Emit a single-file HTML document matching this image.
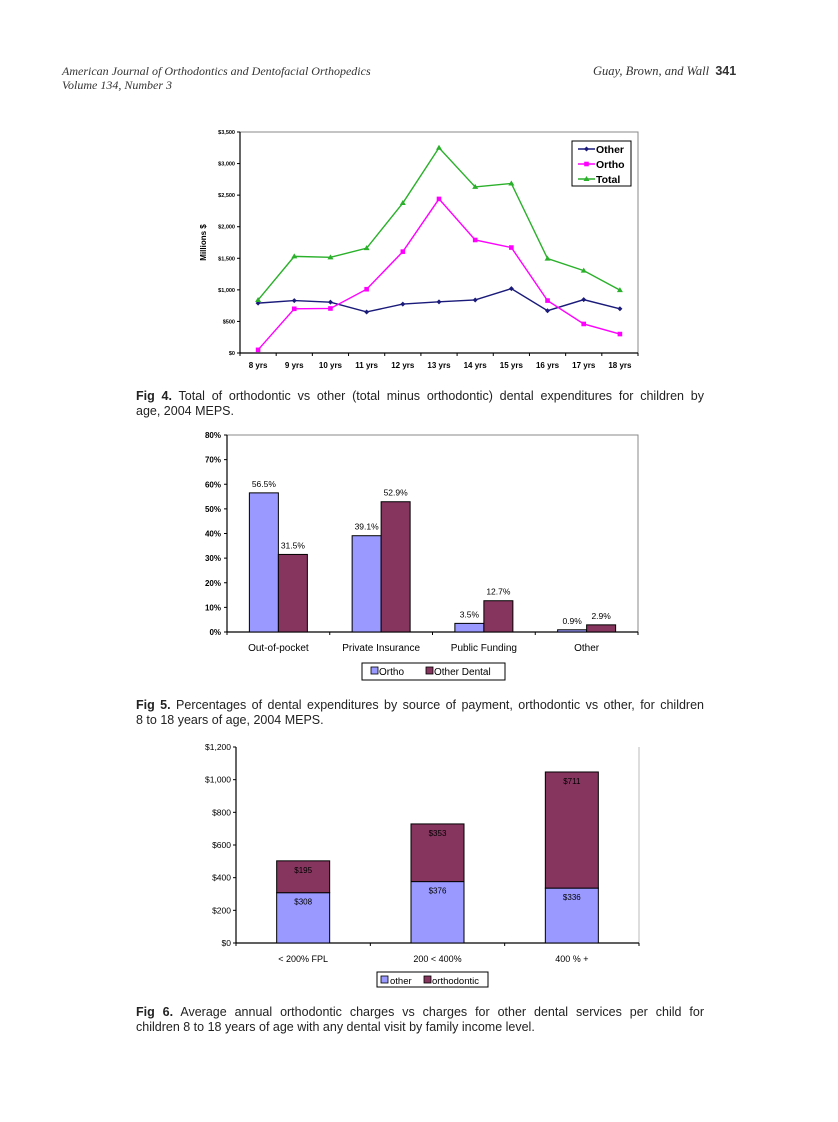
<!DOCTYPE html>
<html><head><meta charset="utf-8">
<style>
body{margin:0;background:#fff;}
#page{position:relative;width:838px;height:1122px;overflow:hidden;background:#fff;font-family:"Liberation Sans",Arial,sans-serif;}
.hdr{position:absolute;font-family:"Liberation Serif",serif;font-style:italic;font-size:12px;color:#333;line-height:14px;}
.cap{position:absolute;left:136px;width:568px;font-size:12.5px;line-height:15px;color:#222;}
.cap .l1{text-align:justify;text-align-last:justify;white-space:nowrap;}
.cap b{font-weight:bold;}
svg{position:absolute;left:0;top:0;}
</style></head><body>
<div id="page">
<div class="hdr" style="left:62px;top:64px">American Journal of Orthodontics and Dentofacial Orthopedics<br>Volume 134, Number 3</div>
<div class="hdr" style="left:593px;top:64px;font-size:12.5px">Guay, Brown, and Wall&nbsp;&nbsp;<b style="font-family:'Liberation Sans',sans-serif;font-style:normal;">341</b></div>
<div class="cap" style="top:389px"><div class="l1"><b>Fig 4.</b> Total of orthodontic vs other (total minus orthodontic) dental expenditures for children by</div><div>age, 2004 MEPS.</div></div>
<div class="cap" style="top:698px"><div class="l1"><b>Fig 5.</b> Percentages of dental expenditures by source of payment, orthodontic vs other, for children</div><div>8 to 18 years of age, 2004 MEPS.</div></div>
<div class="cap" style="top:1005px"><div class="l1"><b>Fig 6.</b> Average annual orthodontic charges vs charges for other dental services per child for</div><div>children 8 to 18 years of age with any dental visit by family income level.</div></div>
<svg id="svg" width="838" height="1122"></svg>
</div>
<script>
// Fig 4 data
const ages = ["8 yrs","9 yrs","10 yrs","11 yrs","12 yrs","13 yrs","14 yrs","15 yrs","16 yrs","17 yrs","18 yrs"];
const otherVals = [790,830,805,650,775,810,840,1020,670,845,700];
const orthoVals = [50,700,705,1010,1605,2440,1790,1670,830,460,300];
const totalVals = [840,1530,1515,1660,2375,3250,2630,2685,1495,1305,995];
const f4Ticks = ["$0","$500","$1,000","$1,500","$2,000","$2,500","$3,000","$3,500"];
// Fig 5 data
const sources = ["Out-of-pocket","Private Insurance","Public Funding","Other"];
const orthoPct = [56.5,39.1,3.5,0.9];
const otherDentalPct = [31.5,52.9,12.7,2.9];
const f5Ticks = ["0%","10%","20%","30%","40%","50%","60%","70%","80%"];
// Fig 6 data
const incomes = ["< 200% FPL","200 < 400%","400 % +"];
const otherCharge = [308,376,336];
const orthoCharge = [195,353,711];
const f6Ticks = ["$0","$200","$400","$600","$800","$1,000","$1,200"];

const NS="http://www.w3.org/2000/svg";
const svg=document.getElementById('svg');
function mk(tag,attrs,parent,text){const e=document.createElementNS(NS,tag);for(const k in attrs)e.setAttribute(k,attrs[k]);if(text!==undefined)e.textContent=text;(parent||svg).appendChild(e);return e;}

// ---------- Fig 4 ----------
(function(){
 const g=mk('g',{});
 
 
 const L=240,R=638,T=132,B=353,max=3500;
 const bw=(R-L)/ages.length;
 const x=i=>L+bw*(i+0.5), y=v=>B-(v/max)*(B-T);
 mk('rect',{x:L,y:T,width:R-L,height:B-T,fill:'#fff',stroke:'#888','stroke-width':1},g);
 mk('line',{x1:L,y1:T,x2:L,y2:B,stroke:'#000','stroke-width':1.2},g);
 mk('line',{x1:L,y1:B,x2:R,y2:B,stroke:'#000','stroke-width':1.2},g);
 f4Ticks.forEach((t,i)=>{const yy=y(i*500);
  mk('line',{x1:L-3,y1:yy,x2:L,y2:yy,stroke:'#000'},g);
  const tx=mk('text',{x:L-5,y:yy+2,'font-size':5.5,'font-weight':'bold','text-anchor':'end'},g,t);
  
  
 });
 for(let i=0;i<=ages.length;i++){mk('line',{x1:L+bw*i,y1:B,x2:L+bw*i,y2:B+3,stroke:'#000'},g);}
 ages.forEach((a,i)=>{const tx=mk('text',{x:x(i),y:B+15,'font-size':8,'font-weight':'bold','text-anchor':'middle'},g,a);
  
  });
 const yt=mk('text',{x:0,y:0,'font-size':8,'font-weight':'bold','text-anchor':'middle',transform:`translate(206,${(T+B)/2}) rotate(-90)`},g,'Millions $');
 
 
 const series=[[otherVals,'#1a1a7a','diamond','series-other'],[orthoVals,'#ff00ff','square','series-ortho'],[totalVals,'#2ab02a','tri','series-total']];
 series.forEach(([vals,col,m,name])=>{
  const pl=mk('polyline',{points:vals.map((v,i)=>x(i)+','+y(v)).join(' '),fill:'none',stroke:col,'stroke-width':1.4},g);
  
  
  vals.forEach((v,i)=>{const cx=x(i),cy=y(v);let p;
   if(m==='diamond')p=mk('polygon',{points:`${cx},${cy-2.5} ${cx+2.5},${cy} ${cx},${cy+2.5} ${cx-2.5},${cy}`,fill:col},g);
   else if(m==='square')p=mk('rect',{x:cx-2.3,y:cy-2.3,width:4.6,height:4.6,fill:col},g);
   else p=mk('polygon',{points:`${cx},${cy-3} ${cx+3},${cy+2} ${cx-3},${cy+2}`,fill:col},g);
   
   });
 });
 const lg=mk('g',{},g);
 
 
 mk('rect',{x:572,y:141,width:59,height:45,fill:'#fff',stroke:'#000','stroke-width':1},lg);
 series.forEach(([v,col,m,name],i)=>{const yy=149+i*15;
  mk('line',{x1:578,y1:yy,x2:595,y2:yy,stroke:col,'stroke-width':1.4},lg);
  if(m==='diamond')mk('polygon',{points:`586.5,${yy-2.5} 589,${yy} 586.5,${yy+2.5} 584,${yy}`,fill:col},lg);
  else if(m==='square')mk('rect',{x:584.2,y:yy-2.3,width:4.6,height:4.6,fill:col},lg);
  else mk('polygon',{points:`586.5,${yy-3} 589.5,${yy+2} 583.5,${yy+2}`,fill:col},lg);
  const tx=mk('text',{x:596,y:yy+4,'font-size':10.5,'font-weight':'bold'},lg,['Other','Ortho','Total'][i]);
  
  
 });
})();

// ---------- Fig 5 ----------
(function(){
 const g=mk('g',{});
 
 
 const L=227,R=638,T=435,B=632,max=80;
 const cw=(R-L)/sources.length, bwid=29;
 const y=v=>B-(v/max)*(B-T);
 mk('rect',{x:L,y:T,width:R-L,height:B-T,fill:'#fff',stroke:'#888'},g);
 mk('line',{x1:L,y1:T,x2:L,y2:B,stroke:'#000','stroke-width':1.2},g);
 mk('line',{x1:L,y1:B,x2:R,y2:B,stroke:'#000','stroke-width':1.2},g);
 f5Ticks.forEach((t,i)=>{const yy=y(i*10);
  mk('line',{x1:L-3,y1:yy,x2:L,y2:yy,stroke:'#000'},g);
  const tx=mk('text',{x:L-6,y:yy+3,'font-size':8,'font-weight':'bold','text-anchor':'end'},g,t);
  
  });
 for(let i=0;i<=sources.length;i++)mk('line',{x1:L+cw*i,y1:B,x2:L+cw*i,y2:B+3,stroke:'#000'},g);
 sources.forEach((s,i)=>{const c=L+cw*(i+0.5);
  const tx=mk('text',{x:c,y:B+19,'font-size':10,'text-anchor':'middle'},g,s);
  
  
  [[orthoPct[i],'#9999ff',c-bwid,'bar-ortho'],[otherDentalPct[i],'#85355e',c,'bar-other-dental']].forEach(([v,col,bx,n])=>{
   const r=mk('rect',{x:bx,y:y(v),width:bwid,height:B-y(v),fill:col,stroke:'#000','stroke-width':1},g);
   
   
   const lb=mk('text',{x:bx+bwid/2,y:y(v)-6,'font-size':8.5,'text-anchor':'middle'},g,v.toFixed(1)+'%');
   
   
  });
 });
 const lg=mk('g',{},g);
 
 
 mk('rect',{x:362,y:663,width:143,height:17,fill:'#fff',stroke:'#000'},lg);
 mk('rect',{x:371,y:667,width:7,height:7,fill:'#9999ff',stroke:'#000','stroke-width':0.8},lg);
 mk('text',{x:379,y:675,'font-size':10},lg,'Ortho');
 mk('rect',{x:426,y:667,width:7,height:7,fill:'#85355e',stroke:'#000','stroke-width':0.8},lg);
 mk('text',{x:434,y:675,'font-size':10},lg,'Other Dental');
})();

// ---------- Fig 6 ----------
(function(){
 const g=mk('g',{});
 
 
 const L=236,R=639,T=747,B=943,max=1200;
 const cw=(R-L)/incomes.length,bwid=53;
 const y=v=>B-(v/max)*(B-T);
 mk('line',{x1:R,y1:T,x2:R,y2:B,stroke:'#bbb'},g);
 mk('line',{x1:L,y1:T,x2:L,y2:B,stroke:'#000','stroke-width':1.2},g);
 mk('line',{x1:L,y1:B,x2:R,y2:B,stroke:'#000','stroke-width':1.2},g);
 f6Ticks.forEach((t,i)=>{const yy=y(i*200);
  mk('line',{x1:L-3,y1:yy,x2:L,y2:yy,stroke:'#000'},g);
  const tx=mk('text',{x:L-5,y:yy+3,'font-size':8.5,'text-anchor':'end'},g,t);
  
  });
 for(let i=0;i<=incomes.length;i++)mk('line',{x1:L+cw*i,y1:B,x2:L+cw*i,y2:B+3,stroke:'#000'},g);
 incomes.forEach((s,i)=>{const c=L+cw*(i+0.5),bx=c-bwid/2;
  const tx=mk('text',{x:c,y:B+19,'font-size':9,'text-anchor':'middle'},g,s);
  
  
  const o=otherCharge[i],t=orthoCharge[i];
  const r1=mk('rect',{x:bx,y:y(o),width:bwid,height:B-y(o),fill:'#9999ff',stroke:'#000'},g);
  
  
  const r2=mk('rect',{x:bx,y:y(o+t),width:bwid,height:y(o)-y(o+t),fill:'#85355e',stroke:'#000'},g);
  
  
  const l1=mk('text',{x:c,y:y(o)+12,'font-size':8,'text-anchor':'middle'},g,'$'+o);
  
  
  const l2=mk('text',{x:c,y:y(o+t)+12,'font-size':8,'text-anchor':'middle'},g,'$'+t);
  
  
 });
 const lg=mk('g',{},g);
 
 
 mk('rect',{x:377,y:972,width:111,height:15,fill:'#fff',stroke:'#000'},lg);
 mk('rect',{x:381,y:976,width:7,height:7,fill:'#9999ff',stroke:'#000','stroke-width':0.8},lg);
 mk('text',{x:390,y:984,'font-size':9.5},lg,'other');
 mk('rect',{x:424,y:976,width:7,height:7,fill:'#85355e',stroke:'#000','stroke-width':0.8},lg);
 mk('text',{x:432,y:984,'font-size':9.5},lg,'orthodontic');
})();
</script>
</body></html>
